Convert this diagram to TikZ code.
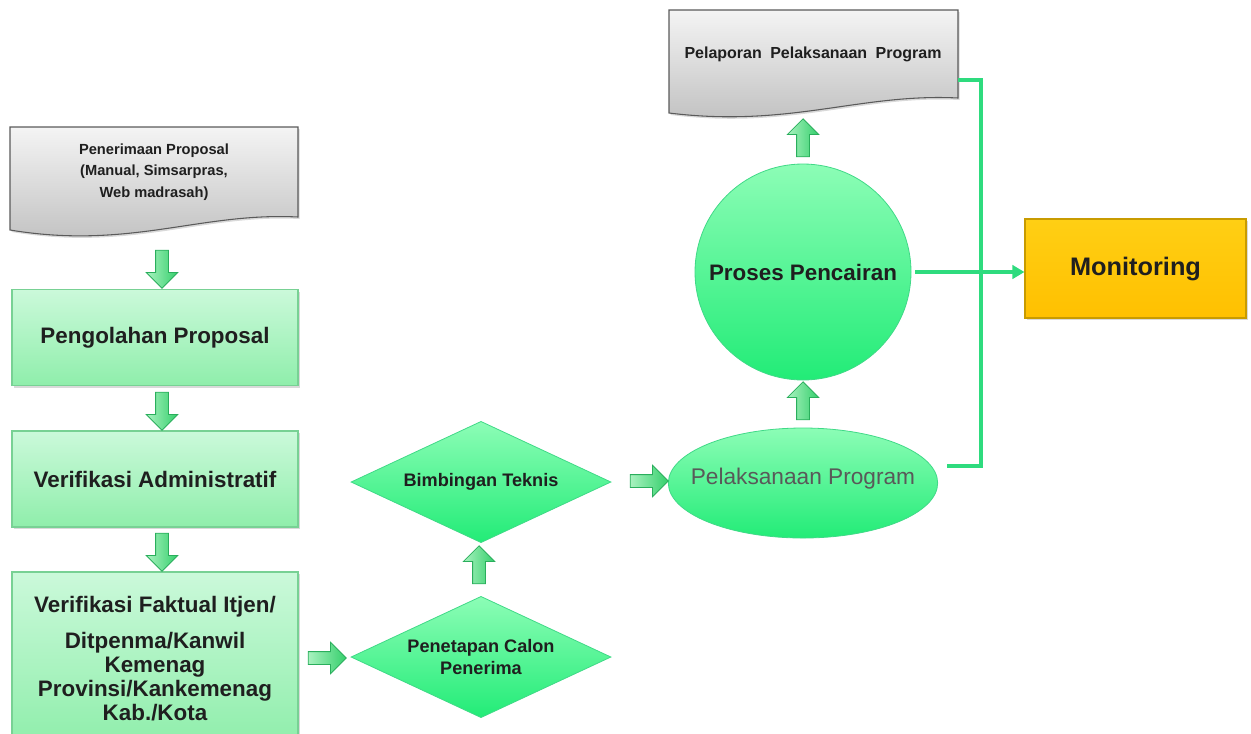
\documentclass[tikz,border=0pt]{standalone}
\usepackage{fontspec}
\setmainfont{Liberation Sans}
\usetikzlibrary{shapes.geometric,shapes.arrows,shadows,arrows.meta,calc}
\definecolor{boxtop}{HTML}{CBF9DA}
\definecolor{boxbot}{HTML}{8FEEAB}
\definecolor{boxline}{HTML}{78D194}
\definecolor{shtop}{HTML}{8CFDB6}
\definecolor{shbot}{HTML}{22EC77}
\definecolor{shline}{HTML}{40D987}
\definecolor{arrlight}{HTML}{A8F2BF}
\definecolor{arrdark}{HTML}{35CF6C}
\definecolor{arrline}{HTML}{2AAE5C}
\definecolor{lineg}{HTML}{2EDB7E}
\definecolor{txt}{HTML}{1F1F1F}
\definecolor{montop}{HTML}{FFCF14}
\definecolor{monbot}{HTML}{FFC000}
\definecolor{monline}{HTML}{C89B00}
\definecolor{doctop}{HTML}{F4F4F4}
\definecolor{docbot}{HTML}{BEBEBE}
\definecolor{docline}{HTML}{5A5A5A}
\begin{document}
\begin{tikzpicture}[x=0.75pt,y=-0.75pt,
  gbox/.style={rectangle, draw=boxline, line width=0.8pt, top color=boxtop, bottom color=boxbot,
    minimum width=214.5pt, minimum height=72pt, inner sep=2pt, align=center,
    font=\bfseries\fontsize{16.8}{18}\selectfont, text=txt,
    drop shadow={opacity=0.3, shadow xshift=1.2pt, shadow yshift=-1.5pt}},
  gshape/.style={draw=shline, line width=0.6pt, top color=shtop, bottom color=shbot},
  dtext/.style={font=\bfseries\fontsize{13.6}{16.5}\selectfont, text=txt, align=center},
  barrow/.style={single arrow, draw=arrline, line width=0.6pt, left color=arrlight, right color=arrdark,
    minimum height=28.5pt, minimum width=23pt, single arrow head extend=7pt,
    inner xsep=0pt, inner ysep=4.5pt},
  docshape/.style={draw=docline, line width=0.8pt, top color=doctop, bottom color=docbot,
    drop shadow={opacity=0.3, shadow xshift=1.2pt, shadow yshift=-1.5pt}},
  conn/.style={draw=lineg, line width=2.3pt}
]
\useasboundingbox (0,0) rectangle (1251,733);

% document shapes
\path[docshape] (10,127) -- (298,127) -- (298,217) .. controls (200,212) and (130,250) .. (10,230) -- cycle;
\node[font=\bfseries\fontsize{11}{16}\selectfont, align=center, text=txt] (rec) at (154,172)
  {Penerimaan Proposal\\(Manual, Simsarpras,\\Web madrasah)};

\path[docshape] (669,10) -- (958,10) -- (958,98) .. controls (860,93) and (790,128) .. (669,113) -- cycle;
\node[font=\bfseries\fontsize{12}{14}\selectfont, text=txt] (rep) at (813,54)
  {Pelaporan\hspace{3pt} Pelaksanaan\hspace{3pt} Program};
\coordinate (repR) at (958,80);

% left column
\node[gbox] (peng) at (155,337.5) {Pengolahan Proposal};
\node[gbox] (vadm) at (155,479) {Verifikasi Administratif};
\node[gbox, minimum height=129.75pt] (vfak) at (155,658.5)
  {Verifikasi Faktual Itjen/\\[9pt]Ditpenma/Kanwil\\Kemenag\\Provinsi/Kankemenag\\Kab./Kota};

% diamonds
\node[gshape, diamond, minimum width=195pt, minimum height=91pt, inner sep=0pt,
  label={[dtext]center:Penetapan Calon\\Penerima}] (pen) at (481,657) {};
\node[gshape, diamond, minimum width=195pt, minimum height=91pt, inner sep=0pt,
  label={[dtext]center:Bimbingan Teknis}] (bim) at (481,482) {};

% ellipse and circle
\node[gshape, ellipse, minimum width=202pt, minimum height=82.5pt, inner sep=0pt,
  label={[yshift=3.5pt, font=\fontsize{17}{19}\selectfont, text=black!65]center:Pelaksanaan Program}] (pel) at (803,483) {};
\node[gshape, circle, minimum size=162pt, inner sep=0pt,
  font=\bfseries\fontsize{16.8}{19}\selectfont, text=txt] (cir) at (803,272) {Proses Pencairan};

% monitoring
\node[rectangle, draw=monline, line width=0.8pt, top color=montop, bottom color=monbot,
  minimum width=165.75pt, minimum height=74.25pt, font=\bfseries\fontsize{19}{22}\selectfont, text=txt,
  drop shadow={opacity=0.3, shadow xshift=1.2pt, shadow yshift=-1.5pt}] (mon) at (1135.5,268.5) {Monitoring};

% block arrows
\node[barrow, rotate=-90] (a1) at (162,266) {};
\node[barrow, rotate=-90] (a2) at (162,408) {};
\node[barrow, rotate=-90] (a3) at (162,549) {};
\node[barrow] (a4) at (324,658) {};
\node[barrow, rotate=90] (a5) at (479,568) {};
\node[barrow] (a6) at (646,481) {};
\node[barrow, rotate=90] (a7) at (803,404) {};
\node[barrow, rotate=90] (a8) at (803,141) {};

% connectors
\draw[conn] (repR) -- ++(17.25pt,0) |- ([xshift=6.4pt,yshift=12.75pt]pel.east);
\draw[conn, -{Triangle[length=9pt,width=10pt]}] ([xshift=3pt]cir.east) -- (cir.east -| mon.west);
\end{tikzpicture}
\end{document}
